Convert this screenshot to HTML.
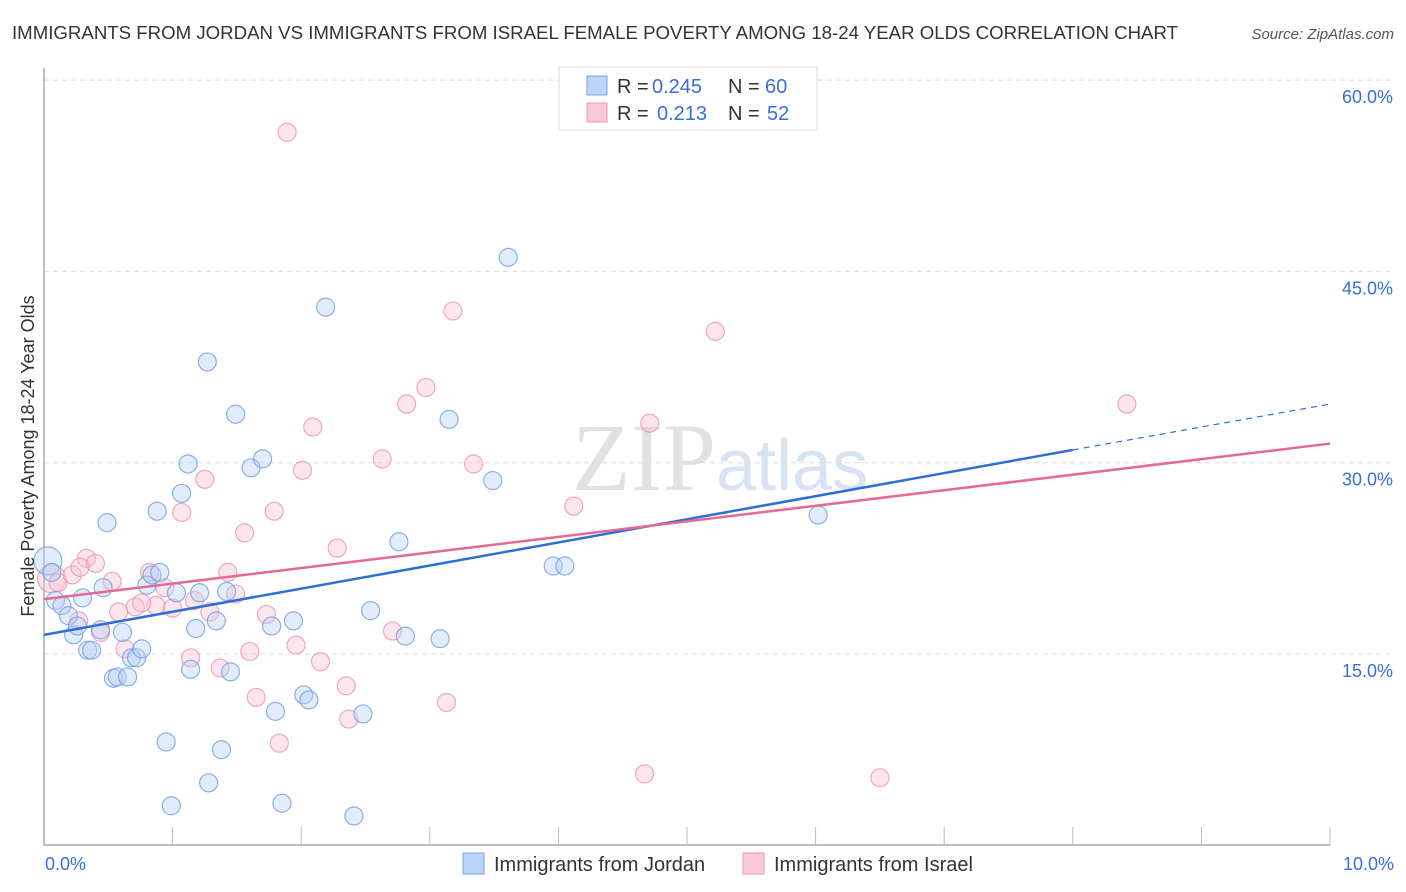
<!DOCTYPE html>
<html><head><meta charset="utf-8"><style>
body{margin:0;background:#fff;font-family:"Liberation Sans",sans-serif;}
svg{display:block}
</style></head><body>
<svg id="chart" width="1406" height="892">
<text x="12" y="39" font-size="18" fill="#333" textLength="1166" lengthAdjust="spacingAndGlyphs">IMMIGRANTS FROM JORDAN VS IMMIGRANTS FROM ISRAEL FEMALE POVERTY AMONG 18-24 YEAR OLDS CORRELATION CHART</text>
<text x="1394" y="39" font-size="15" fill="#555" font-style="italic" text-anchor="end">Source: ZipAtlas.com</text>
<text x="716" y="490" font-size="96" fill="#e2e2e2" text-anchor="end" font-family="Liberation Serif">ZIP</text>
<text x="716" y="490" font-size="72" fill="#d8e3f3">atlas</text>
<g id="grid"></g><g id="axes"></g><g id="pts"></g><g id="trend"></g>
<text transform="translate(34,456) rotate(-90)" font-size="18" fill="#333" text-anchor="middle">Female Poverty Among 18-24 Year Olds</text>
<g>
<rect x="559" y="67" width="258" height="63" fill="#fff" stroke="#ddd"/>
<rect x="587" y="76" width="20" height="19" fill="#bcd4f6" stroke="#7aa6e6"/>
<rect x="587" y="103" width="20" height="19" fill="#f9c9d8" stroke="#ec9ab4"/>
<text y="93" font-size="20" fill="#333"><tspan x="617">R =</tspan><tspan x="652" fill="#3a6fd8">0.245</tspan><tspan x="728">N =</tspan><tspan x="765" fill="#3a6fd8">60</tspan></text>
<text y="120" font-size="20" fill="#333"><tspan x="617">R =</tspan><tspan x="657" fill="#3a6fd8">0.213</tspan><tspan x="728">N =</tspan><tspan x="767" fill="#3a6fd8">52</tspan></text>
</g>
<g>
<rect x="463" y="853" width="21" height="21" fill="#bcd4f6" stroke="#7aa6e6"/>
<text x="494" y="871" font-size="20" fill="#333">Immigrants from Jordan</text>
<rect x="743" y="853" width="21" height="21" fill="#f9c9d8" stroke="#ec9ab4"/>
<text x="774" y="871" font-size="20" fill="#333">Immigrants from Israel</text>
</g>
</svg>
<script>
const yTicks=[15,30,45,60];
const yTickLabels=["15.0%","30.0%","45.0%","60.0%"];
const xTickLabels=["0.0%","10.0%"];
const jordanX=[0.03,0.06,0.09,0.14,0.19,0.23,0.26,0.30,0.34,0.37,0.44,0.46,0.49,0.54,0.57,0.61,0.65,0.68,0.72,0.76,0.80,0.84,0.88,0.90,0.95,0.99,1.03,1.07,1.12,1.14,1.18,1.21,1.27,1.28,1.34,1.38,1.42,1.45,1.49,1.61,1.70,1.77,1.80,1.85,1.94,2.02,2.06,2.19,2.41,2.48,2.54,2.76,2.81,3.08,3.15,3.49,3.61,3.96,4.05,6.02];
const jordanY=[22.3,21.4,19.2,18.8,18.0,16.5,17.2,19.4,15.3,15.3,16.9,20.2,25.3,13.1,13.2,16.7,13.2,14.7,14.7,15.4,20.4,21.2,26.2,21.4,8.1,3.1,19.8,27.6,29.9,13.8,17.0,19.8,37.9,4.9,17.6,7.5,19.9,13.6,33.8,29.6,30.3,17.2,10.5,3.3,17.6,11.8,11.4,42.2,2.3,10.3,18.4,23.8,16.4,16.2,33.4,28.6,46.1,21.9,21.9,25.9];
const israelX=[0.06,0.11,0.22,0.33,0.40,0.44,0.27,0.53,0.58,0.63,0.71,0.82,0.87,0.94,1.00,1.07,1.14,1.17,1.25,1.29,1.37,1.43,1.49,1.56,1.60,1.65,1.73,1.79,1.83,1.89,1.96,2.01,2.09,2.15,2.28,2.35,2.37,2.63,2.71,2.82,2.97,3.13,3.18,3.34,4.12,4.67,4.71,5.22,6.50,8.42,0.76,0.28];
const israelY=[20.9,20.6,21.2,22.5,22.1,16.7,17.6,20.7,18.3,15.4,18.7,21.4,18.8,20.2,18.6,26.1,14.7,19.2,28.7,18.3,13.9,21.4,19.7,24.5,15.2,11.6,18.1,26.2,8.0,55.9,15.7,29.4,32.8,14.4,23.3,12.5,9.9,30.3,16.8,34.6,35.9,11.2,41.9,29.9,26.6,5.6,33.1,40.3,5.3,34.6,19.0,21.8];
const jordanTrend=[16.5,31.0,34.6]; const jordanTrendX=[0,8.0,10];
const israelTrend=[19.3,31.5]; const israelTrendX=[0,10];
const NS="http://www.w3.org/2000/svg";
const X=v=>44+v*128.6, Y=v=>845.3-v*(191.3/15);
function mk(tag,a,parent){const e=document.createElementNS(NS,tag);for(const k in a)e.setAttribute(k,a[k]);document.getElementById(parent).appendChild(e);return e;}
yTicks.forEach((t,i)=>{
 const g=mk('line',{x1:44,x2:1394,y1:Y(t),y2:Y(t),stroke:'#ddd','stroke-dasharray':'5,4'},'grid');
 
 
 const l=mk('text',{x:1393,y:Y(t)+23,'font-size':18,fill:'#3a6fd8','text-anchor':'end'},'grid');l.textContent=yTickLabels[i];
 
 
});
const ax=mk('path',{d:`M44,68V845H1330`,stroke:'#aaa',fill:'none','stroke-width':1.5},'axes');


for(let i=1;i<=10;i++){const t=mk('line',{x1:X(i),x2:X(i),y1:827,y2:845,stroke:'#bbb'},'axes');
 
 }
[[0,'start',45],[10,'end',1394]].forEach((p,i)=>{const t=mk('text',{x:p[2],y:870,'font-size':18,fill:'#3a6fd8','text-anchor':p[1]},'axes');t.textContent=xTickLabels[i];
 
 });
function pts(xs,ys,fill,stroke,name){xs.forEach((x,i)=>{const r=(i==0)?14:9;const c=mk('circle',{cx:X(x),cy:Y(ys[i]),r:r,fill:fill,'fill-opacity':0.4,stroke:stroke,'stroke-opacity':0.8,'stroke-width':1.2},'pts');
 
 });}
pts(israelX,israelY,'#f7c0d1','#ec95b0','israel-point');
pts(jordanX,jordanY,'#b7d0f5','#6f9fe3','jordan-point');
const jl=mk('line',{x1:X(jordanTrendX[0]),y1:Y(jordanTrend[0]),x2:X(jordanTrendX[1]),y2:Y(jordanTrend[1]),stroke:'#2e6fd6','stroke-width':2.5},'trend');


const jd=mk('line',{x1:X(jordanTrendX[1]),y1:Y(jordanTrend[1]),x2:X(jordanTrendX[2]),y2:Y(jordanTrend[2]),stroke:'#2e6fd6','stroke-width':1.2,'stroke-dasharray':'6,5'},'trend');


const il=mk('line',{x1:X(israelTrendX[0]),y1:Y(israelTrend[0]),x2:X(israelTrendX[1]),y2:Y(israelTrend[1]),stroke:'#e46a95','stroke-width':2.5},'trend');


</script>
</body></html>
